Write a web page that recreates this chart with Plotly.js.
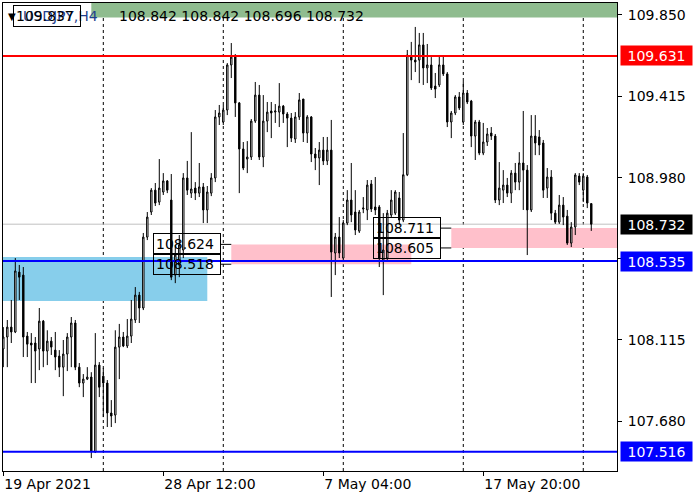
<!DOCTYPE html>
<html>
<head>
<meta charset="utf-8">
<script src="https://cdn.plot.ly/plotly-3.0.1.min.js"></script>
<style>html,body{margin:0;padding:0;background:#fff;}#chart{width:700px;height:500px;}</style>
</head>
<body>
<div id="chart"></div>
<script>
// USDJPY H4 candles (bar index 0 = 19 Apr 2021 20:00)
const openP = [108.065,108.129,108.182,108.156,108.476,108.460,108.134,108.097,108.097,108.065,108.214,108.054,108.107,108.059,108.027,107.968,108.038,108.129,108.204,107.968,107.883,107.904,107.915,107.514,107.979,107.920,107.883,107.723,107.712,108.075,108.129,108.081,108.134,108.220,108.353,108.284,108.663,108.797,108.914,108.850,108.904,108.963,108.861,108.460,108.514,108.594,108.979,108.898,108.925,108.898,108.931,108.808,108.898,108.979,109.305,109.278,109.342,109.583,109.631,109.380,109.134,109.080,109.091,109.283,109.422,109.091,109.283,109.337,109.331,109.331,109.363,109.321,109.299,109.187,109.305,109.401,109.219,109.305,109.107,109.086,109.128,109.070,109.128,108.578,108.663,108.551,108.738,108.861,108.797,108.695,108.813,108.808,108.947,108.824,108.824,108.540,108.551,108.781,108.791,108.872,108.754,108.996,109.631,109.609,109.609,109.690,109.567,109.583,109.470,109.476,109.583,109.535,109.278,109.326,109.412,109.278,109.433,109.390,109.203,109.278,109.112,109.171,109.219,109.203,108.861,108.914,108.941,108.898,109.005,108.957,109.059,109.021,108.808,109.203,109.198,109.166,108.925,108.984,108.791,108.743,108.834,108.775,108.631,108.717,108.989,108.914,108.984,108.842];
const highP = [108.182,108.220,108.327,108.551,108.514,108.503,108.156,108.150,108.129,108.284,108.220,108.165,108.129,108.156,108.059,108.113,108.150,108.236,108.220,107.990,107.931,107.968,107.941,108.150,107.995,107.963,107.899,107.792,108.165,108.199,108.156,108.225,108.327,108.396,108.370,108.685,108.797,108.925,108.952,109.080,109.005,108.968,109.000,108.621,108.674,109.005,109.070,109.224,108.957,109.059,108.952,108.936,109.005,109.342,109.369,109.369,109.593,109.700,109.641,109.385,109.171,109.176,109.294,109.492,109.476,109.422,109.385,109.385,109.374,109.486,109.369,109.331,109.326,109.331,109.433,109.401,109.315,109.310,109.139,109.171,109.198,109.198,109.289,108.685,108.770,108.754,108.914,109.059,108.914,108.808,108.877,108.968,108.968,108.984,108.834,108.791,108.808,108.914,108.914,108.904,109.219,109.663,109.706,109.786,109.754,109.754,109.695,109.625,109.540,109.636,109.636,109.545,109.337,109.422,109.438,109.497,109.449,109.396,109.289,109.289,109.273,109.246,109.251,109.214,109.064,109.021,108.979,109.021,109.059,109.117,109.337,109.048,109.315,109.315,109.235,109.182,109.032,109.021,108.808,108.888,108.877,108.808,108.743,109.005,109.005,109.005,108.995,108.842];
const lowP = [107.968,107.968,108.097,108.150,108.327,108.022,108.022,107.883,107.883,107.952,107.968,107.979,108.033,107.952,107.915,107.813,107.947,107.968,107.952,107.861,107.808,107.899,107.482,107.509,107.808,107.701,107.648,107.648,107.669,107.904,108.075,108.070,108.097,108.204,108.204,108.273,108.647,108.781,108.829,108.834,108.888,108.898,108.433,108.417,108.449,108.551,108.888,108.872,108.861,108.877,108.738,108.738,108.882,108.957,109.262,109.262,109.315,109.513,109.305,108.898,109.021,109.005,109.075,109.273,109.075,109.037,109.224,109.192,109.273,109.251,109.273,109.144,109.171,109.166,109.289,109.171,109.166,109.064,109.021,108.941,109.048,109.048,108.343,108.460,108.551,108.530,108.727,108.743,108.674,108.685,108.791,108.754,108.797,108.781,108.503,108.353,108.530,108.765,108.781,108.727,108.743,108.989,109.502,109.545,109.486,109.476,109.486,109.449,109.406,109.465,109.524,109.251,109.192,109.315,109.342,109.262,109.374,109.144,109.075,109.101,109.101,109.150,109.182,108.845,108.834,108.845,108.877,108.845,108.914,108.914,108.808,108.567,108.797,109.101,109.101,108.872,108.872,108.754,108.733,108.733,108.727,108.621,108.610,108.674,108.941,108.850,108.818,108.696];
const closeP = [108.129,108.182,108.156,108.482,108.449,108.129,108.091,108.086,108.054,108.214,108.054,108.107,108.075,108.022,107.968,108.038,108.129,108.204,107.968,107.883,107.904,107.915,107.519,107.979,107.861,107.883,107.723,107.707,108.075,108.129,108.081,108.134,108.225,108.353,108.284,108.663,108.770,108.914,108.845,108.925,108.963,108.914,108.449,108.567,108.621,108.979,108.914,108.920,108.898,108.931,108.808,108.904,108.979,109.305,109.326,109.342,109.583,109.625,109.380,109.134,109.032,109.091,109.283,109.422,109.091,109.283,109.331,109.326,109.337,109.363,109.321,109.299,109.192,109.305,109.396,109.219,109.305,109.107,109.086,109.128,109.070,109.128,108.583,108.663,108.578,108.738,108.861,108.781,108.701,108.797,108.818,108.941,108.813,108.808,108.551,108.594,108.791,108.861,108.904,108.754,108.996,109.636,109.609,109.599,109.690,109.567,109.583,109.460,109.454,109.583,109.535,109.278,109.326,109.412,109.353,109.433,109.385,109.203,109.278,109.112,109.171,109.214,109.203,108.861,108.925,108.941,108.898,109.005,108.957,109.059,109.021,108.808,109.203,109.166,109.155,108.914,108.984,108.791,108.743,108.834,108.770,108.631,108.717,108.995,108.957,108.989,108.845,108.732];

// axis ticks
const tickBars = [0, 40, 80, 120];
const tickLabels = ['19 Apr 2021', '28 Apr 12:00', '7 May 04:00', '17 May 20:00'];
const priceTicks = [109.850, 109.415, 108.980, 108.547, 108.115, 107.680];

// weekly period separators (first bar of each week)
const weekStarts = [25, 55, 85, 115, 145];

// horizontal levels
const levelPrices = [109.631, 108.535, 107.516];
const levelColors = ['#FF0000', '#0000FF', '#0000FF'];
const bidPrice = 108.732;

// zones (rectangles)
const zoneStart = [22, -1, 57, 112];
const zoneEnd = [null, 51, 102, null];
const zoneLow = [109.837, 108.321, 108.518, 108.605];
const zoneHigh = [110.2, 108.556, 108.624, 108.711];
const zoneColors = ['#8FBC8F', '#87CEEB', '#FFC0CB', '#FFC0CB'];
// zones with left price labels
const labelledZones = [2, 3];

const FONT = 'DejaVu Sans';
const bars = openP.map((_, i) => i);
const lastBar = bars.length - 1;
const xMin = -0.075, xMax = 153.43;

const shapes = [];
zoneStart.forEach((s, k) => {
  shapes.push({type: 'rect', xref: 'x', yref: 'y', layer: 'below',
    x0: s, x1: zoneEnd[k] === null ? xMax + 5 : zoneEnd[k],
    y0: zoneLow[k], y1: zoneHigh[k], fillcolor: zoneColors[k], line: {width: 0}});
});
weekStarts.forEach(b => {
  shapes.push({type: 'line', xref: 'x', yref: 'paper', layer: 'below', x0: b, x1: b, y0: 0, y1: 1,
    line: {color: '#000', width: 1, dash: '3px,3px'}});
});
shapes.push({type: 'line', xref: 'paper', yref: 'y', layer: 'below', x0: 0, x1: 1, y0: bidPrice, y1: bidPrice,
  line: {color: '#C0C0C0', width: 1}});
levelPrices.forEach((p, k) => {
  shapes.push({type: 'line', xref: 'paper', yref: 'y', x0: 0, x1: 1, y0: p, y1: p,
    line: {color: levelColors[k], width: 2}});
});

const annotations = [];
// left price labels of zones with connector lines
labelledZones.forEach(k => {
  [zoneHigh[k], zoneLow[k]].forEach(p => {
    const bx = zoneStart[k] - 2.6;
    shapes.push({type: 'line', xref: 'x', yref: 'y', x0: bx, x1: zoneStart[k], y0: p, y1: p,
      line: {color: '#000', width: 1}});
    annotations.push({xref: 'x', yref: 'y', x: bx, y: p, xanchor: 'right', yanchor: 'middle',
      text: p.toFixed(3), showarrow: false, align: 'left',
      font: {family: FONT, size: 14, color: '#000'},
      bordercolor: '#000', borderwidth: 1, borderpad: 2, width: 62, height: 16});
  });
});
// right-axis coloured price labels
const axisLabelPrices = levelPrices.concat([bidPrice]);
const axisLabelColors = levelColors.concat(['#000000']);
axisLabelPrices.forEach((p, k) => {
  annotations.push({xref: 'paper', yref: 'y', x: 1, y: p, xanchor: 'left', yanchor: 'middle', xshift: 3,
    text: p.toFixed(3), showarrow: false, bgcolor: axisLabelColors[k],
    font: {family: FONT, size: 14, color: '#FFFFFF'}, width: 67, height: 15, borderpad: 2});
});
// header text
annotations.push({xref: 'paper', yref: 'paper', x: 0, y: 1, xanchor: 'left', yanchor: 'top', xshift: 3, yshift: -6,
  text: '\u25BC', showarrow: false, font: {family: FONT, size: 10, color: '#000'}});
annotations.push({xref: 'paper', yref: 'paper', x: 0, y: 1, xanchor: 'left', yanchor: 'top', xshift: 18, yshift: -3,
  text: 'USDJPY,H4', showarrow: false, font: {family: FONT, size: 14, color: '#1F3F8F'}});
annotations.push({xref: 'paper', yref: 'paper', x: 0, y: 1, xanchor: 'left', yanchor: 'top', xshift: 114, yshift: -3,
  text: [openP[lastBar], highP[lastBar], lowP[lastBar], closeP[lastBar]].map(v => v.toFixed(3)).join(' '),
  showarrow: false, font: {family: FONT, size: 14, color: '#000'}});
annotations.push({xref: 'paper', yref: 'paper', x: 0, y: 1, xanchor: 'left', yanchor: 'top', xshift: 10, yshift: -2,
  text: zoneLow[0].toFixed(3), showarrow: false, align: 'left',
  font: {family: FONT, size: 14, color: '#000'}, bordercolor: '#000', borderwidth: 1, borderpad: 2, width: 62, height: 16});

const trace = {
  type: 'candlestick', x: bars, open: openP, high: highP, low: lowP, close: closeP,
  whiskerwidth: 0, hoverinfo: 'skip',
  increasing: {line: {color: '#000', width: 1}, fillcolor: '#FFFFFF'},
  decreasing: {line: {color: '#000', width: 1}, fillcolor: '#000000'}
};

const layout = {
  width: 700, height: 500,
  margin: {l: 3, r: 83, t: 3, b: 29, pad: 0},
  paper_bgcolor: '#FFFFFF', plot_bgcolor: '#FFFFFF',
  showlegend: false, boxgap: 0.5,
  font: {family: FONT, size: 14, color: '#000'},
  xaxis: {type: 'linear', range: [xMin, xMax], showgrid: false, zeroline: false,
    showline: true, mirror: true, linecolor: '#000', linewidth: 1,
    ticks: 'outside', ticklen: 4, tickcolor: '#000', tickwidth: 1,
    tickvals: tickBars, ticktext: tickLabels, ticklabelposition: 'outside right',
    tickfont: {family: FONT, size: 14, color: '#000'},
    rangeslider: {visible: false}, fixedrange: true},
  yaxis: {range: [107.413, 109.914], side: 'right', showgrid: false, zeroline: false,
    showline: true, mirror: true, linecolor: '#000', linewidth: 1,
    ticks: 'outside', ticklen: 4, tickcolor: '#000', tickwidth: 1,
    tickvals: priceTicks, ticktext: priceTicks.map(v => v.toFixed(3)), ticklabelstandoff: 3,
    tickfont: {family: FONT, size: 14, color: '#000'}, fixedrange: true},
  shapes: shapes, annotations: annotations
};

Plotly.newPlot('chart', [trace], layout, {displayModeBar: false, staticPlot: true});
</script>
</body>
</html>
